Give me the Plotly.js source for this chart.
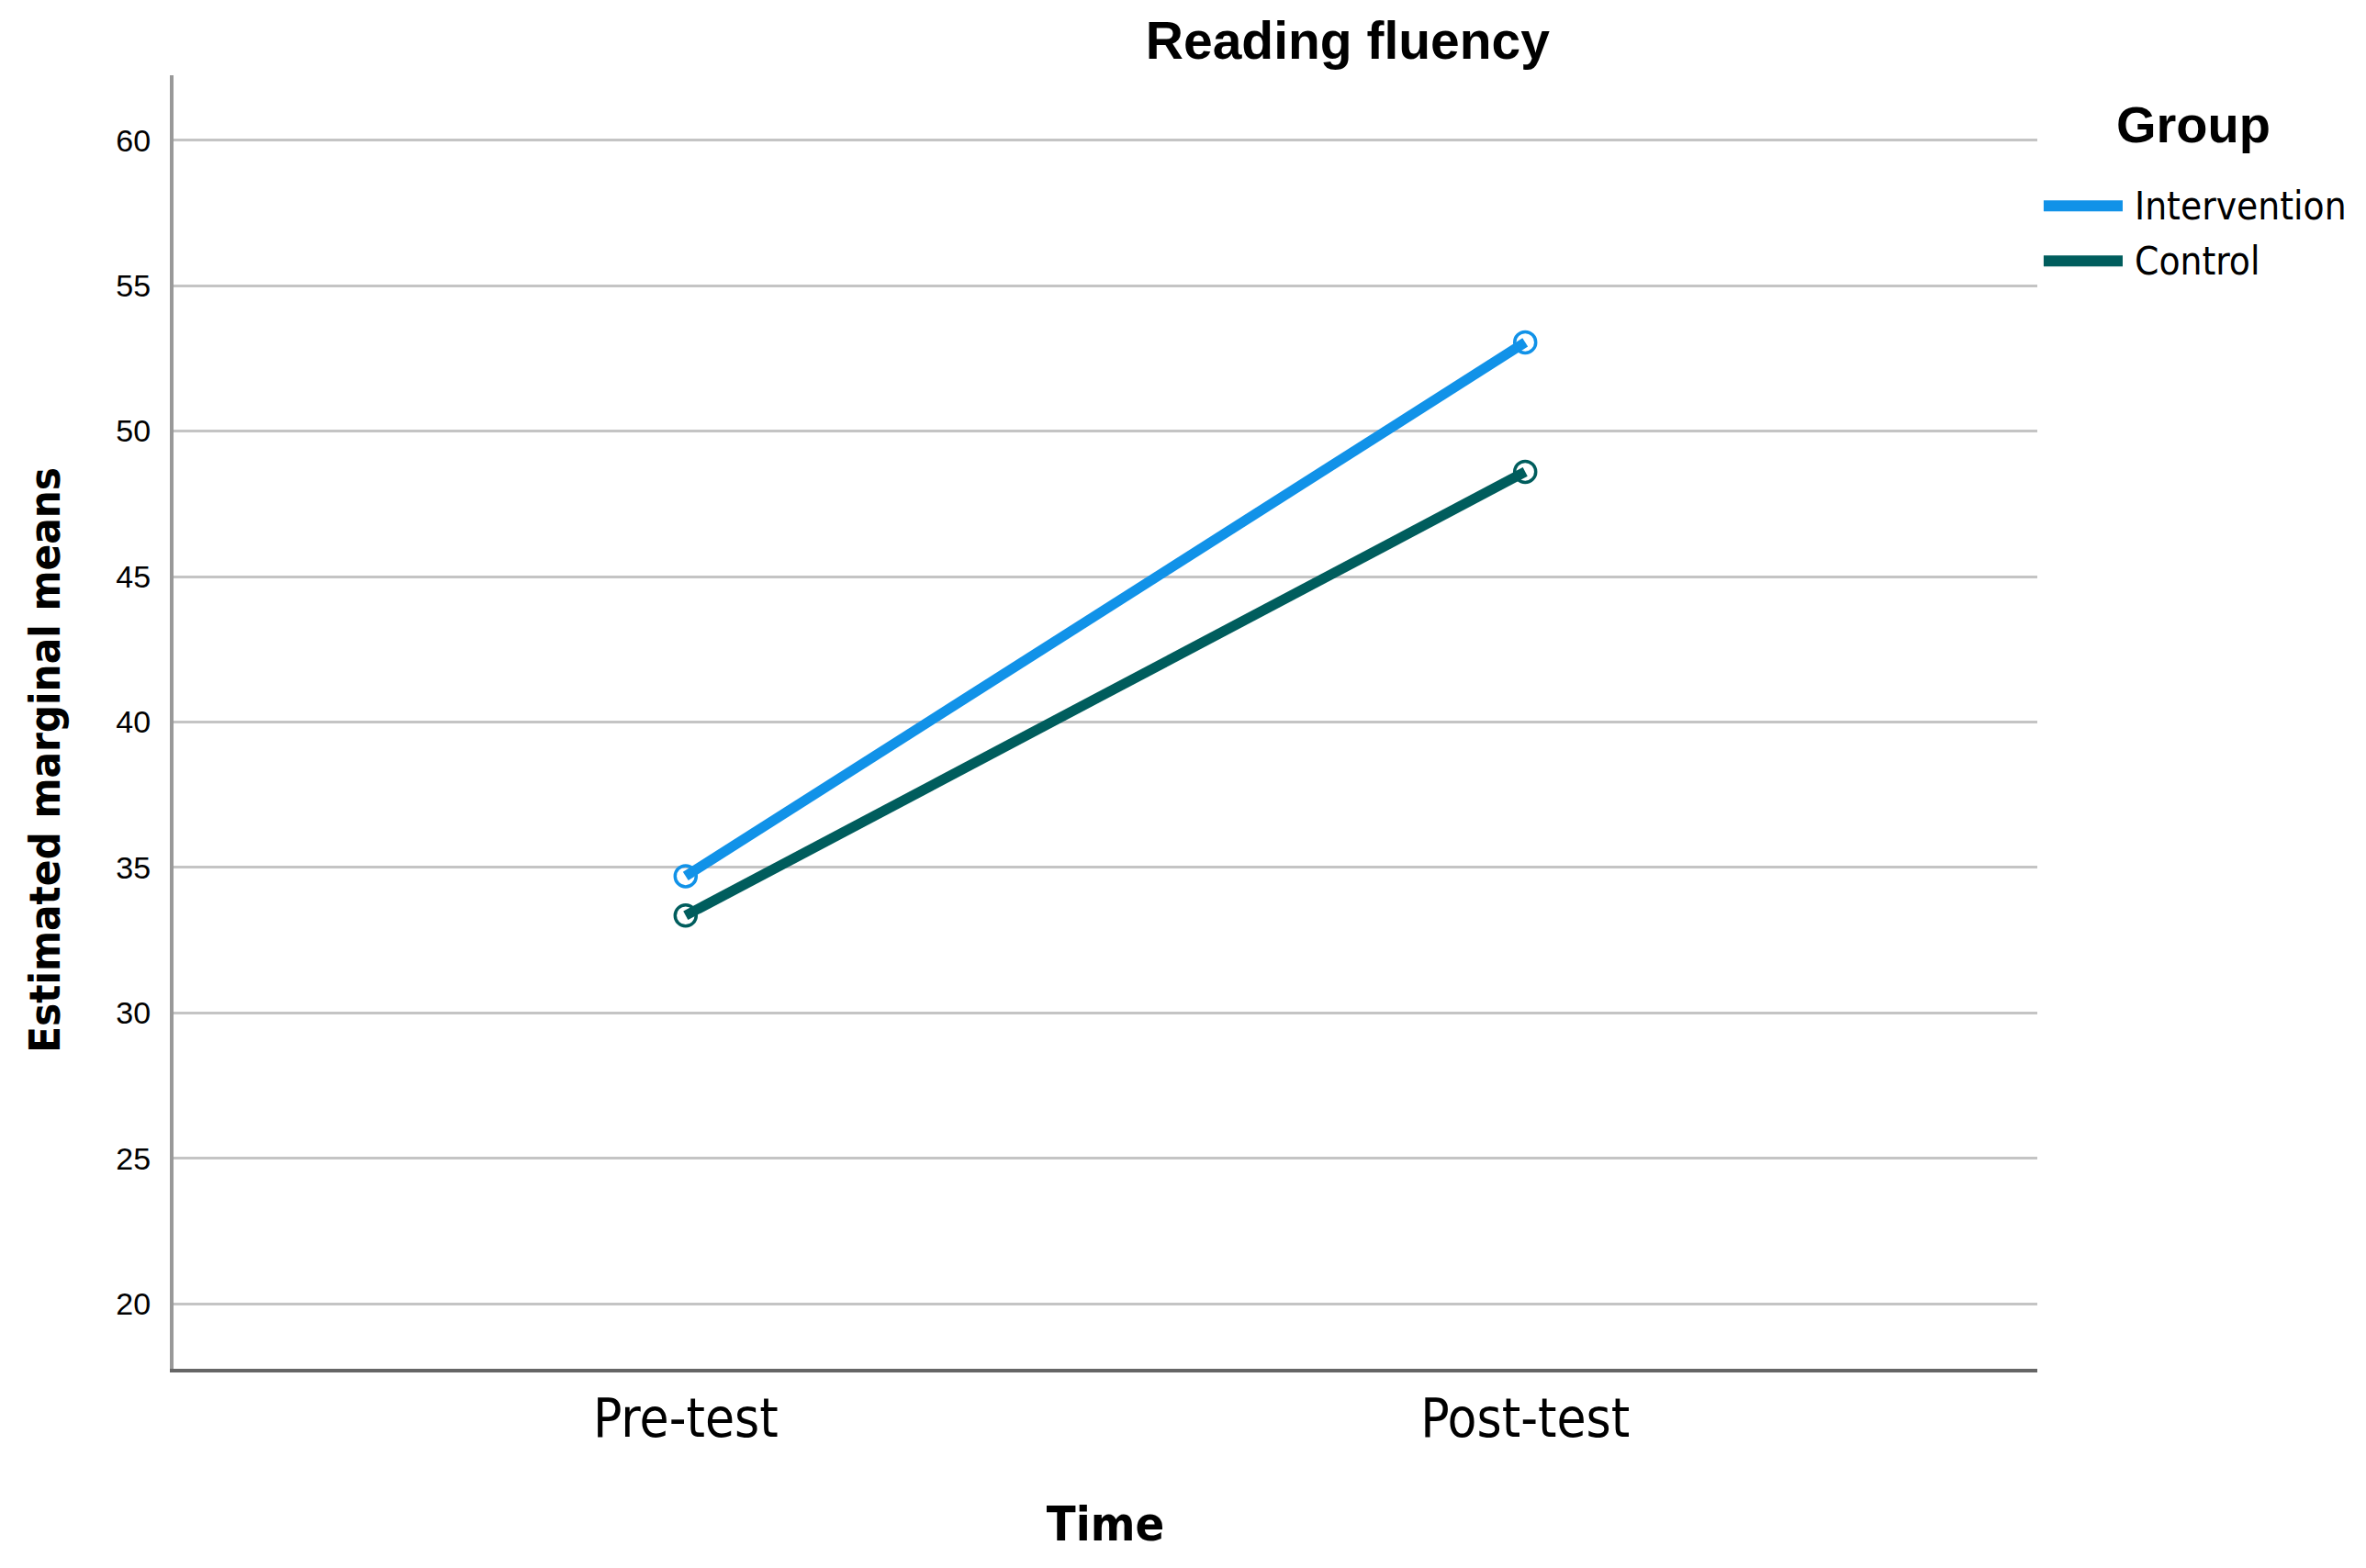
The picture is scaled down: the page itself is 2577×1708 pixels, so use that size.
<!DOCTYPE html>
<html>
<head>
<meta charset="utf-8">
<script src="https://cdn.plot.ly/plotly-3.0.1.min.js"></script>
<style>
  html, body { margin: 0; padding: 0; background: #fff; }
  #chart { width: 2577px; height: 1708px; }
</style>
</head>
<body>
<div id="chart"></div>
<script>
var times = ["Pre-test", "Post-test"];
var groups = ["Intervention", "Control"];
var intervention = [34.7, 53.05];
var control = [33.35, 48.6];
var yTicks = [20, 25, 30, 35, 40, 45, 50, 55, 60];

var colors = ["#1192e8", "#005d5d"];
var series = [intervention, control];

var narrow = "Liberation Sans Narrow, Arial Narrow, DejaVu Sans Condensed, sans-serif";
var sans = "Liberation Sans, Arial, sans-serif";

var data = [];
series.forEach(function (vals, i) {
  data.push({
    x: times,
    y: vals,
    name: groups[i],
    type: "scatter",
    mode: "lines+markers",
    line: { color: colors[i], width: 11 },
    marker: { symbol: "circle-open", size: 23, color: colors[i], line: { width: 3.5, color: colors[i] } },
    showlegend: false
  });
});

// legend drawn by hand so the line samples can be as long as in the original
var shapes = [];
var annotations = [];
var rowY = [0.899, 0.8565];
groups.forEach(function (g, i) {
  shapes.push({
    type: "line", xref: "paper", yref: "paper",
    x0: 1.0034, x1: 1.0458, y0: rowY[i], y1: rowY[i],
    line: { color: colors[i], width: 12 }
  });
  annotations.push({
    text: g, xref: "paper", yref: "paper",
    x: 1.0512, y: rowY[i], xanchor: "left", yanchor: "middle",
    showarrow: false,
    font: { family: narrow, size: 42, color: "#000" }
  });
});
annotations.push({
  text: "<b>Group</b>", xref: "paper", yref: "paper",
  x: 1.0836, y: 0.9617, xanchor: "center", yanchor: "middle",
  showarrow: false,
  font: { family: sans, size: 56, color: "#000" }
});
annotations.push({
  text: "<b>Estimated marginal means</b>",
  textangle: -90,
  xref: "paper", yref: "paper",
  x: -0.069, y: 0.4706,
  xanchor: "center", yanchor: "middle",
  showarrow: false,
  font: { family: narrow, size: 47, color: "#000" }
});

var layout = {
  width: 2577,
  height: 1708,
  paper_bgcolor: "#fff",
  plot_bgcolor: "#fff",
  margin: { l: 189, r: 358, t: 82, b: 217 },
  showlegend: false,
  title: {
    text: "<b>Reading fluency</b>",
    font: { family: sans, size: 57, color: "#000" },
    x: 0.63, xref: "paper", xanchor: "center",
    y: 0.974, yref: "container", yanchor: "middle"
  },
  xaxis: {
    type: "category",
    categoryarray: times,
    range: [-0.61, 1.61],
    showgrid: false,
    zeroline: false,
    showline: true,
    linecolor: "#666",
    linewidth: 4,
    ticks: "",
    ticklabelstandoff: 0,
    tickfont: { family: narrow, size: 58, color: "#000" },
    title: {
      text: "<b>Time</b>",
      font: { family: narrow, size: 52, color: "#000" },
      standoff: 65
    }
  },
  yaxis: {
    range: [17.77, 62.23],
    tickvals: yTicks,
    ticktext: yTicks.map(String),
    showgrid: true,
    gridcolor: "#c4c4c4",
    gridwidth: 3,
    zeroline: false,
    showline: true,
    linecolor: "#999",
    linewidth: 4,
    ticks: "",
    ticklabelstandoff: 14,
    tickfont: { family: sans, size: 34, color: "#000" }
  },
  shapes: shapes,
  annotations: annotations
};

Plotly.newPlot("chart", data, layout, { displayModeBar: false, staticPlot: true });
</script>
</body>
</html>
